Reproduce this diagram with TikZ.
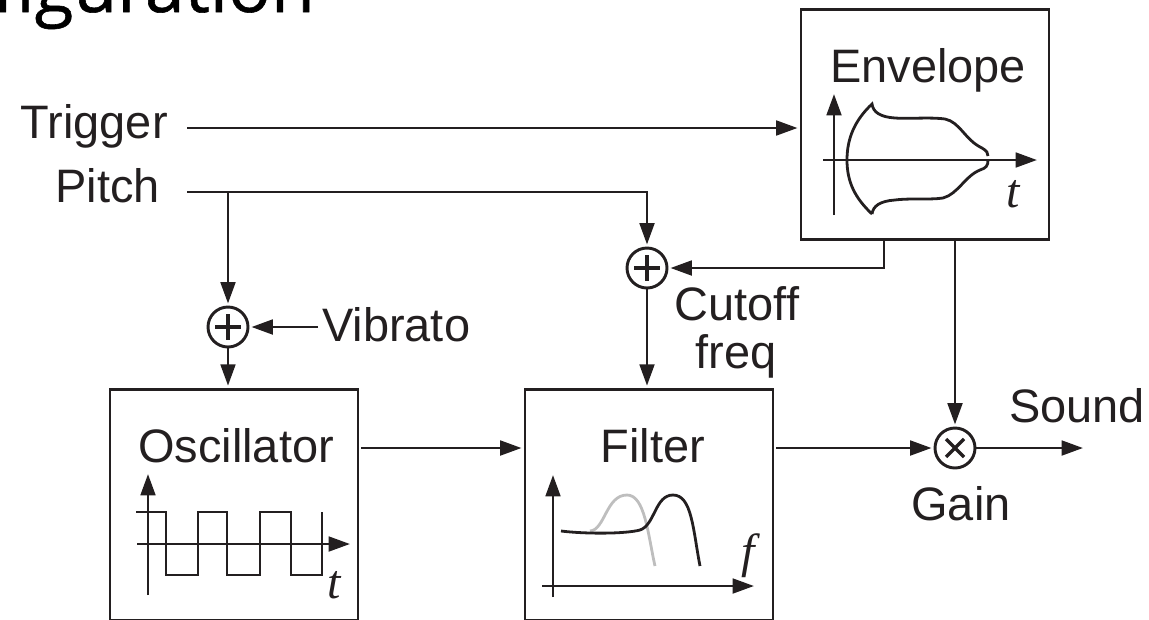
\documentclass[tikz,border=0pt]{standalone}
\usepackage{fontspec}
\setmainfont{Liberation Sans}
\newfontfamily\serifvar{Liberation Serif}
\newfontfamily\headfont[FakeBold=0.8]{Open Sans}
\usetikzlibrary{arrows.meta}
\definecolor{inkcol}{RGB}{35,31,32}
\definecolor{passcol}{RGB}{190,190,190}

\begin{document}
\begin{tikzpicture}[x=0.75pt,y=0.75pt,yscale=-1,xscale=1,
	every node/.style={text=inkcol},
	lbl/.style={anchor=base,inner sep=0pt,font=\fontsize{35.2}{35.2}\selectfont},
	varlbl/.style={anchor=base,inner sep=0pt,font=\fontsize{36}{36}\selectfont\serifvar\itshape},
	blockbox/.style={draw=inkcol,line width=2.2pt,inner sep=0pt,minimum width=186pt,minimum height=173pt},
	sumnode/.style={circle,draw=inkcol,line width=2.2pt,inner sep=0pt,minimum size=30pt},
	conn/.style={draw=inkcol,line width=2.1pt,-{Stealth[length=16pt,width=11pt,inset=0pt]},shorten >=1.5pt},
	wire/.style={draw=inkcol,line width=2.6pt},
	axis/.style={draw=inkcol,line width=2.1pt,-{Stealth[length=16pt,width=11pt,inset=0pt]}},
	curve/.style={draw=inkcol,line width=2.1pt,line join=miter}]
		\path[use as bounding box,clip] (0,0) rectangle (1149,619);
		
		% Heading
		\node [anchor=base east,inner sep=0pt,font=\fontsize{53.5}{53.5}\selectfont\headfont,text=black] (heading) at (315,12) {Configuration};
		
		%Blocks
		\node [blockbox] (envbox) at (925,124.5) {};
		\node [blockbox,minimum height=173.6pt] (oscbox) at (234,504.9) {};
		\node [blockbox,minimum height=173.6pt] (fltbox) at (649,504.9) {};
		
		%Adders and multiplier
		\node [sumnode] (addvib) at (228,327) {};
		\node [sumnode] (addcut) at (647,268) {};
		\node [sumnode] (mulgain) at (955,448) {};
		\draw [wire] (215,327) -- (241,327) (228,314) -- (228,340);
		\draw [wire] (634,268) -- (660,268) (647,255) -- (647,281);
		\draw [wire] (946,439) -- (964,457) (946,457) -- (964,439);
		
		% Text Node
		\node [lbl] (envlbl) at (928,82) {Envelope};
		\node [lbl] (osclbl) at (236,462) {Oscillator};
		\node [lbl] (fltlbl) at (653,462) {Filter};
		\node [lbl,anchor=base east] (trigger) at (168,138) {Trigger};
		\node [lbl,anchor=base east] (pitch) at (160,202) {Pitch};
		\node [lbl,anchor=base west] (vibrato) at (322,341) {Vibrato};
		\node [lbl] (cutoff) at (737,320) {Cutoff};
		\node [lbl] (freq) at (736,368) {freq};
		\node [lbl,anchor=base west] (sound) at (1009,422) {Sound};
		\node [lbl] (gain) at (961,520) {Gain};
		\node [varlbl] (envt) at (1013,207) {t};
		\node [varlbl] (osct) at (334,598) {t};
		\node [varlbl] (fltf) at (748,567) {f};
		
		%Connectors
		\coordinate (trigout) at (187,128);
		\coordinate (pitchout) at (187,192);
		\coordinate (envcut) at (884,240);
		\coordinate (soundout) at (1083,448);
		\draw [conn] (trigout) -- (envbox.west |- trigout);
		\draw [conn] (pitchout) -| (addcut);
		\draw [conn] (addvib |- pitchout) -- (addvib);
		\draw [conn] ([xshift=-3pt]vibrato.west |- addvib) -- (addvib);
		\draw [conn] (addvib) -- (oscbox.north -| addvib);
		\draw [conn] (addcut) -- (fltbox.north -| addcut);
		\draw [conn] (envcut) |- (addcut);
		\draw [conn] (mulgain |- envbox.south) -- (mulgain);
		\draw [conn,shorten <=1.5pt] (oscbox.east |- mulgain) -- (fltbox.west |- mulgain);
		\draw [conn,shorten <=1.5pt] (fltbox.east |- mulgain) -- (mulgain);
		\draw [axis] (mulgain) -- (soundout);
		
		%Envelope plot
		\draw [axis] (834,215) -- (834,94);
		\draw [axis] (823,160) -- (1037,160);
		\draw [curve] (872,214) .. controls (855,198) and (847,182) .. (847,160) .. controls (847,138) and (855,120) .. (872,104) .. controls (873,112) and (880,117) .. (895,118) .. controls (910,119) and (930,117) .. (945,119) .. controls (960,122) and (965,140) .. (982,148) .. controls (987,151) and (988,153) .. (988,156);
		\draw [curve] (872,214) .. controls (873,206) and (880,201) .. (895,200) .. controls (910,198) and (930,200) .. (943,198) .. controls (958,194) and (965,176) .. (980,170) .. controls (986,168) and (988,166) .. (988,160);
		
		%Oscillator plot
		\draw [axis] (148,595) -- (148,474);
		\draw [axis] (137,544) -- (350,544);
		\draw [curve] (136,512) -- (166,512) -- (166,575) -- (198,575) -- (198,512) -- (227,512) -- (227,575) -- (260,575) -- (260,512) -- (291,512) -- (291,575) -- (322,575) -- (322,512);
		
		%Filter plot
		\draw [curve,draw=passcol] (590,531) .. controls (605,530) and (606,495) .. (627,495) .. controls (645,495) and (648,535) .. (655,566);
		\draw [curve] (561,531) .. controls (585,534) and (625,534) .. (640,530) .. controls (655,525) and (655,495) .. (673,495) .. controls (692,495) and (693,530) .. (700,566);
		\draw [axis] (553,597) -- (553,475);
		\draw [axis] (542,586) -- (754,586);
		
		\end{tikzpicture}
\end{document}
